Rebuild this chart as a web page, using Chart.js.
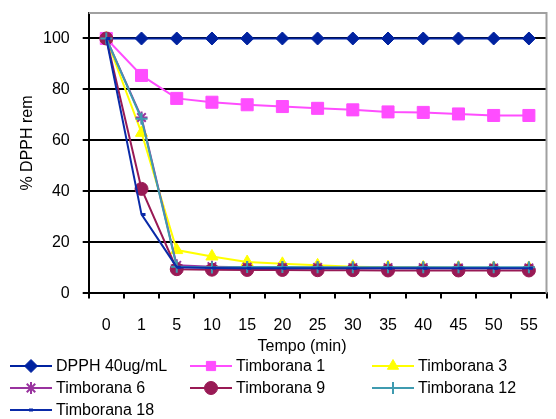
<!DOCTYPE html>
<html>
<head>
<meta charset="utf-8">
<script src="https://cdn.jsdelivr.net/npm/chart.js@4"></script>
<style>
  html, body { margin: 0; padding: 0; background: #fff; }
  #wrap { width: 556px; height: 419px; }
</style>
</head>
<body>
<div id="wrap"><canvas id="dpphChart" width="556" height="419"></canvas></div>
<script>
const timeLabels = ['0', '1', '5', '10', '15', '20', '25', '30', '35', '40', '45', '50', '55'];

const dpph40 = [100, 100, 100, 100, 100, 100, 100, 100, 100, 100, 100, 100, 100];
const timb1 = [100, 85.5, 76.5, 75, 74, 73.3, 72.6, 72, 71.2, 71, 70.4, 69.8, 69.8];
const timb3 = [100, 63, 17, 14.5, 12.3, 11.6, 11, 10.5, 10.3, 10.2, 10.1, 10, 10];
const timb6 = [100, 69, 11, 10.5, 10.3, 10.2, 10.2, 10.1, 10.1, 10.1, 10, 10, 10];
const timb9 = [100, 41, 9.5, 9.3, 9.2, 9.2, 9.1, 9.1, 9, 9, 9, 9, 9];
const timb12 = [100, 68.5, 10.5, 10.2, 10.4, 10.4, 10.3, 10.3, 10.3, 10.3, 10.3, 10.3, 10.3];
const timb18 = [100, 31, 10.3, 10, 9.9, 9.9, 9.9, 9.9, 9.9, 9.9, 9.9, 9.9, 9.9];

const seriesNames = ['DPPH 40ug/mL', 'Timborana 1', 'Timborana 3', 'Timborana 6', 'Timborana 9', 'Timborana 12', 'Timborana 18'];
const seriesData = [dpph40, timb1, timb3, timb6, timb9, timb12, timb18];
const seriesColors = ['#0022a0', '#ff4dff', '#ffff00', '#99339f', '#991a55', '#3f9bb0', '#0a2aa8'];
const seriesMarkers = ['rectRot', 'rect', 'triangle', 'star', 'circle', 'cross', 'dash'];
const markerSizes = [6.5, 8.5, 7, 6, 6.5, 6, 4];

const FONT = 'Arial, "Liberation Sans", sans-serif';

const datasets = seriesData.map((data, i) => ({
    label: seriesNames[i],
    data,
    borderColor: seriesColors[i],
    backgroundColor: seriesColors[i],
    pointBackgroundColor: seriesColors[i],
    pointBorderColor: seriesColors[i],
    pointStyle: seriesMarkers[i],
    pointRadius: markerSizes[i],
    pointBorderWidth: i === 6 ? 3 : (i === 3 || i === 5 ? 2 : 1),
    borderWidth: 2,
    tension: 0,
    fill: false,
    order: seriesNames.length - i
}));

// gray frame on top/right, titles and the Excel-like legend at the bottom
const extrasPlugin = {
    id: 'extras',
    afterDraw(chart) {
        const ctx = chart.ctx;
        const area = chart.chartArea;
        ctx.save();
        ctx.strokeStyle = '#a0a0a0';
        ctx.lineWidth = 2;
        ctx.beginPath();
        ctx.moveTo(area.left, area.top);
        ctx.lineTo(area.right, area.top);
        ctx.lineTo(area.right, area.bottom);
        ctx.stroke();

        ctx.fillStyle = '#000';
        ctx.font = '16px ' + FONT;
        ctx.textAlign = 'center';
        ctx.textBaseline = 'middle';
        ctx.fillText('Tempo (min)', 302, 347);

        ctx.save();
        ctx.translate(28, 143);
        ctx.rotate(-Math.PI / 2);
        ctx.fillText('% DPPH rem', 0, 0);
        ctx.restore();

        const colX = [10, 190, 372];
        const rowY = [366, 388, 410];
        chart.data.datasets.forEach((ds, i) => {
            const x = colX[i % 3];
            const y = rowY[Math.floor(i / 3)];
            ctx.strokeStyle = ds.borderColor;
            ctx.lineWidth = 2;
            ctx.beginPath();
            ctx.moveTo(x, y);
            ctx.lineTo(x + 42, y);
            ctx.stroke();
            ctx.fillStyle = ds.pointBackgroundColor;
            ctx.strokeStyle = ds.pointBorderColor;
            ctx.lineWidth = ds.pointBorderWidth;
            Chart.helpers.drawPoint(ctx, {
                pointStyle: ds.pointStyle,
                radius: ds.pointStyle === 'dash' ? 4 : Math.min(ds.pointRadius, 6.5),
                rotation: 0,
                borderWidth: ds.pointBorderWidth
            }, ds.pointStyle === 'dash' ? x + 19 : x + 21, y);
            ctx.fillStyle = '#000';
            ctx.textAlign = 'left';
            ctx.fillText(ds.label, x + 46, y + 1);
        });
        ctx.restore();
    }
};

new Chart(document.getElementById('dpphChart').getContext('2d'), {
    type: 'line',
    data: { labels: timeLabels, datasets },
    options: {
        responsive: false,
        animation: false,
        layout: { padding: { left: 30, right: 0, top: 0, bottom: 67 } },
        plugins: {
            legend: { display: false },
            tooltip: { enabled: false }
        },
        scales: {
            x: {
                offset: true,
                grid: {
                    offset: true,
                    drawOnChartArea: false,
                    drawTicks: true,
                    tickLength: 5,
                    color: '#000',
                    lineWidth: 2
                },
                border: { color: '#000', width: 2 },
                ticks: { color: '#000', font: { family: FONT, size: 16, lineHeight: 1.6 }, padding: 14, maxRotation: 0, autoSkip: false }
            },
            y: {
                min: 0,
                max: 110,
                afterBuildTicks(scale) {
                    scale.ticks = [0, 20, 40, 60, 80, 100].map(v => ({ value: v }));
                },
                grid: { color: '#000', lineWidth: 2, tickLength: 6 },
                border: { color: '#000', width: 2 },
                ticks: { color: '#000', font: { family: FONT, size: 16, lineHeight: 0 }, padding: 13 }
            }
        }
    },
    plugins: [extrasPlugin]
});
</script>
</body>
</html>
